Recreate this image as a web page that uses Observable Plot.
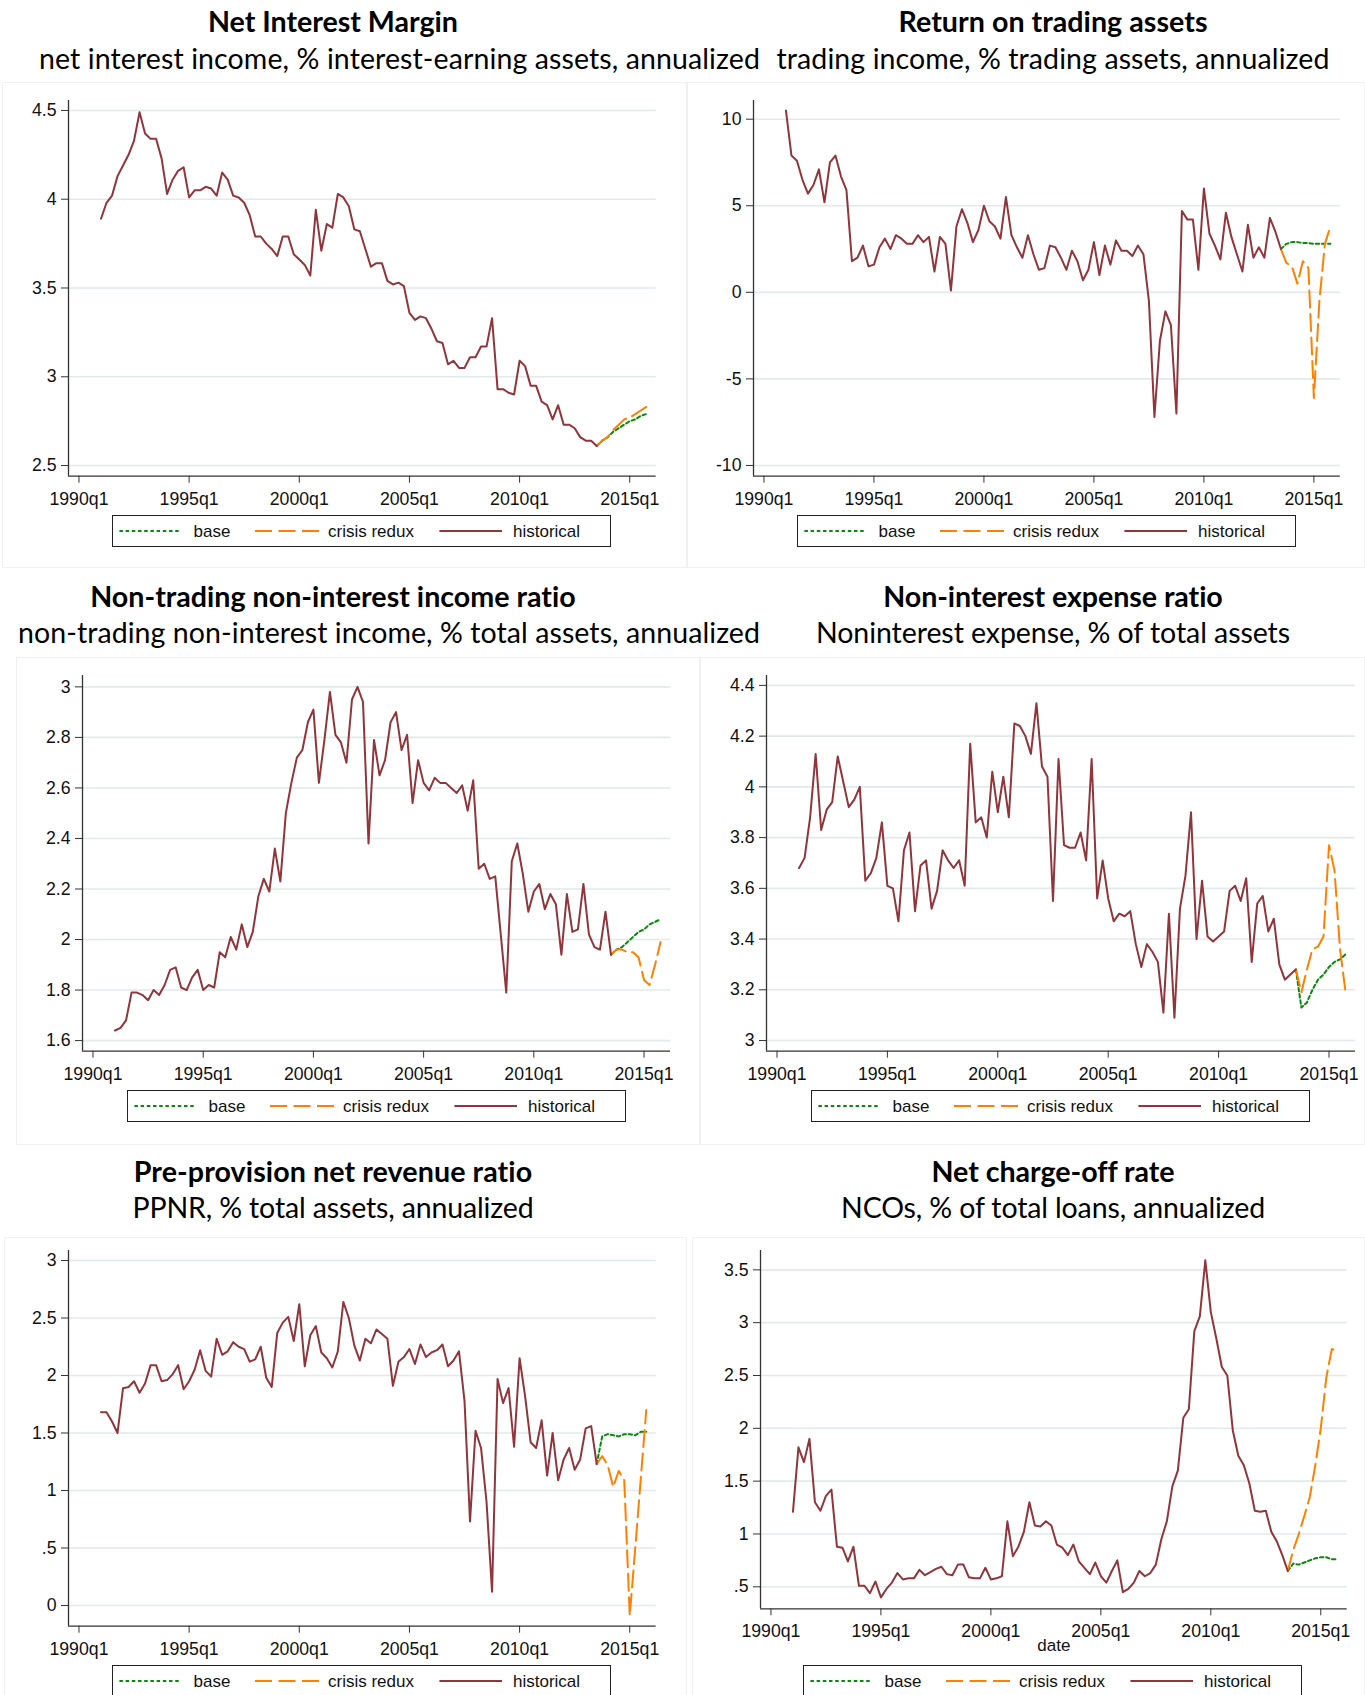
<!DOCTYPE html>
<html><head><meta charset="utf-8">
<script src="https://cdn.jsdelivr.net/npm/d3@7"></script>
<script src="https://cdn.jsdelivr.net/npm/@observablehq/plot@0.6"></script>
<style>
body{margin:0;background:#fff;}
#root{position:relative;width:1365px;height:1695px;overflow:hidden;background:#fff;}
.title,.sub{position:absolute;white-space:nowrap;color:#000;line-height:1;font-family:Lato,"Open Sans",sans-serif;}
.title{font-weight:700;}
.sub{font-weight:400;}
.region{position:absolute;border:1px solid #f1f1f1;box-sizing:border-box;}
.legend{position:absolute;border:1px solid #222;box-sizing:border-box;background:#fff;}
.chart{position:absolute;}
</style></head><body>
<div id="root"></div>
<script>
// ---------- data ----------
const histStart = "1991q1";
const fcstStart = "2013q3";
const xTicks = [1990, 1995, 2000, 2005, 2010, 2015];
const seriesNames = ["base", "crisis redux", "historical"];

const nimHist = [3.89,3.98,4.02,4.13,4.19,4.25,4.33,4.49,4.37,4.34,
 4.34,4.23,4.03,4.11,4.16,4.18,4.01,4.05,4.05,4.07,
 4.06,4.02,4.15,4.11,4.02,4.01,3.98,3.91,3.79,3.79,
 3.75,3.72,3.68,3.79,3.79,3.69,3.66,3.63,3.57,3.94,
 3.71,3.86,3.84,4.03,4.01,3.96,3.83,3.82,3.72,3.62,
 3.64,3.64,3.54,3.52,3.53,3.51,3.36,3.32,3.34,3.33,
 3.27,3.20,3.19,3.07,3.09,3.05,3.05,3.11,3.11,3.17,
 3.17,3.33,2.93,2.93,2.91,2.90,3.09,3.06,2.95,2.95,
 2.86,2.84,2.76,2.84,2.73,2.73,2.71,2.66,2.64,2.64,
 2.61];
const nimBase = [2.61,2.64,2.66,2.69,2.71,2.73,2.75,2.76,2.78,2.79];
const nimCrisis = [2.61,2.64,2.66,2.70,2.73,2.76,2.77,2.79,2.81,2.83];

const tradHist = [10.5,7.9,7.6,6.5,5.7,6.2,7.1,5.2,7.5,7.9,
 6.7,5.9,1.8,2.0,2.7,1.5,1.6,2.6,3.1,2.5,
 3.3,3.1,2.8,2.8,3.3,2.9,3.2,1.2,3.2,2.8,
 0.1,3.8,4.8,4.0,2.9,3.6,5.0,4.1,3.8,3.1,
 5.5,3.3,2.6,2.0,3.3,2.2,1.3,1.4,2.7,2.6,
 2.0,1.3,2.4,1.8,0.7,1.3,2.9,1.0,2.7,1.6,
 3.0,2.4,2.4,2.1,2.7,2.2,-0.5,-7.2,-2.8,-1.1,
 -1.9,-7.0,4.7,4.2,4.2,1.3,6.0,3.4,2.7,1.9,
 4.6,3.2,2.2,1.2,3.9,2.0,2.6,2.0,4.3,3.5,
 2.5];
const tradBase = [2.5,2.8,2.9,2.9,2.85,2.85,2.8,2.8,2.8,2.8];
const tradCrisis = [2.5,1.7,1.5,0.5,1.8,1.4,-6.1,-0.5,2.8,3.8];

const nonTradHist = [1.64,1.65,1.68,1.79,1.79,1.78,1.76,1.80,1.78,1.82,
 1.88,1.89,1.81,1.80,1.85,1.88,1.80,1.82,1.81,1.95,
 1.93,2.01,1.96,2.06,1.97,2.03,2.17,2.24,2.19,2.36,
 2.23,2.50,2.62,2.72,2.75,2.86,2.91,2.62,2.79,2.98,
 2.81,2.78,2.70,2.95,3.00,2.94,2.38,2.79,2.65,2.71,
 2.86,2.90,2.75,2.81,2.54,2.71,2.62,2.59,2.64,2.62,
 2.62,2.60,2.58,2.61,2.51,2.63,2.28,2.30,2.24,2.25,
 2.02,1.79,2.31,2.38,2.26,2.11,2.19,2.22,2.12,2.18,
 2.14,1.94,2.18,2.03,2.04,2.22,2.02,1.97,1.96,2.11,
 1.94];
const nonTradBase = [1.94,1.96,1.97,1.99,2.01,2.03,2.04,2.06,2.07,2.08];
const nonTradCrisis = [1.94,1.96,1.96,1.95,1.95,1.93,1.84,1.82,1.90,1.99];

const expHist = [3.68,3.72,3.88,4.13,3.83,3.91,3.94,4.12,4.02,3.92,
 3.95,4.00,3.63,3.66,3.72,3.86,3.61,3.60,3.47,3.75,
 3.82,3.51,3.69,3.71,3.52,3.59,3.75,3.71,3.68,3.71,
 3.61,4.17,3.86,3.88,3.80,4.06,3.90,4.04,3.88,4.25,
 4.24,4.20,4.13,4.33,4.08,4.04,3.55,4.11,3.77,3.76,
 3.76,3.82,3.71,4.11,3.56,3.71,3.56,3.47,3.50,3.49,
 3.51,3.38,3.29,3.38,3.35,3.31,3.11,3.50,3.09,3.52,
 3.65,3.90,3.40,3.63,3.41,3.39,3.41,3.43,3.59,3.61,
 3.55,3.64,3.31,3.54,3.57,3.43,3.48,3.30,3.24,3.26,
 3.28];
const expBase = [3.28,3.13,3.15,3.20,3.24,3.26,3.29,3.31,3.32,3.34];
const expCrisis = [3.28,3.19,3.28,3.36,3.37,3.41,3.77,3.67,3.36,3.19];

const ppnrHist = [1.68,1.68,1.60,1.50,1.89,1.90,1.95,1.85,1.93,2.09,
 2.09,1.95,1.96,2.01,2.09,1.88,1.95,2.05,2.22,2.04,
 1.99,2.32,2.18,2.21,2.29,2.25,2.23,2.12,2.14,2.25,
 1.98,1.90,2.37,2.46,2.51,2.30,2.62,2.08,2.35,2.43,
 2.20,2.15,2.07,2.21,2.64,2.50,2.26,2.13,2.32,2.28,
 2.40,2.36,2.32,1.91,2.12,2.16,2.23,2.10,2.27,2.16,
 2.20,2.22,2.27,2.08,2.13,2.21,1.78,0.73,1.52,1.37,
 0.90,0.12,1.97,1.76,1.89,1.38,2.15,1.82,1.42,1.37,
 1.61,1.13,1.50,1.09,1.27,1.37,1.18,1.27,1.54,1.56,
 1.23];
const ppnrBase = [1.23,1.47,1.49,1.48,1.47,1.49,1.49,1.48,1.51,1.51];
const ppnrCrisis = [1.23,1.30,1.22,1.03,1.17,1.09,-0.09,0.5,1.1,1.70];

const ncoHist = [1.21,1.82,1.68,1.90,1.30,1.22,1.36,1.42,0.88,0.87,
 0.74,0.88,0.51,0.51,0.44,0.55,0.40,0.48,0.54,0.63,
 0.57,0.58,0.58,0.66,0.61,0.64,0.67,0.69,0.62,0.61,
 0.71,0.71,0.59,0.58,0.58,0.68,0.57,0.58,0.60,1.12,
 0.79,0.88,1.02,1.30,1.08,1.07,1.12,1.08,0.90,0.87,
 0.80,0.90,0.74,0.68,0.62,0.73,0.60,0.54,0.65,0.75,
 0.45,0.48,0.54,0.65,0.60,0.63,0.71,0.95,1.12,1.45,
 1.60,2.10,2.18,2.92,3.06,3.59,3.10,2.85,2.58,2.50,
 1.98,1.74,1.65,1.48,1.22,1.21,1.22,1.02,0.93,0.80,
 0.65];
const ncoBase = [0.65,0.72,0.71,0.73,0.75,0.77,0.78,0.78,0.76,0.76];
const ncoCrisis = [0.65,0.85,1.00,1.17,1.35,1.65,2.00,2.48,2.75,2.74];

const titles = ["Net Interest Margin","Return on trading assets","Non-trading non-interest income ratio",
  "Non-interest expense ratio","Pre-provision net revenue ratio","Net charge-off rate"];
const subtitles = ["net interest income, % interest-earning assets, annualized",
  "trading income, % trading assets, annualized",
  "non-trading non-interest income, % total assets, annualized",
  "Noninterest expense, % of total assets",
  "PPNR, % total assets, annualized",
  "NCOs, % of total loans, annualized"];
const yTickSets = [[2.5,3,3.5,4,4.5],[-10,-5,0,5,10],[1.6,1.8,2,2.2,2.4,2.6,2.8,3],
  [3,3.2,3.4,3.6,3.8,4,4.2,4.4],[0,0.5,1,1.5,2,2.5,3],[0.5,1,1.5,2,2.5,3,3.5]];

// ---------- layout (not data) ----------
const C = {hist:"#90353b", crisis:"#ff8000", base:"#0a8a0a", axis:"#333", grid:"#e1eaec"};
const DASH = {base:"3.5,2.7", crisis:"17,6.5"};
const xDomain = [1989.525, 2016.2];
const layout = [
  {frame:[68,100,655.7,475.7], y:[2.44,4.556], cx:333, ty:22.5, sy:59, maxR:760, region:[2,82,687,568]},
  {frame:[753,100,1339.8,475.7], y:[-10.62,11.08], cx:1053, ty:22.5, sy:59, maxR:1362, region:[687,82,1365,568]},
  {frame:[82,675,670,1050.7], y:[1.558,3.045], cx:333, ty:597, sy:633, maxR:760, region:[16,657,700,1145]},
  {frame:[766,675,1355,1050.7], y:[2.958,4.439], cx:1053, ty:597, sy:633, maxR:1362, region:[700,657,1365,1145]},
  {frame:[68,1250,655.7,1625.7], y:[-0.18,3.087], cx:333, ty:1172, sy:1208, maxR:760, region:[4,1237,687,1700]},
  {frame:[759.6,1250,1346.3,1608.3], y:[0.292,3.683], cx:1053, ty:1172, sy:1208, maxR:1362, region:[692,1237,1365,1700], date:true}
];
const titleTargets = [250,309,486,340,399,242];
const subTargets = [721,553,742,474,401,424];

// ---------- helpers ----------
const qNum = s => { const [y, qq] = s.split("q"); return +y + (+qq - 1) / 4; };
const toSeries = (start, vals) => vals.map((v, k) => ({x: qNum(start) + k / 4, y: v}));
const fmtY = d => String(d).replace(/^(-?)0\./, "$1.");
const AXIS_FONT = "'Liberation Sans', Arial, Helvetica, sans-serif";

const data = [
  [nimHist, nimBase, nimCrisis],
  [tradHist, tradBase, tradCrisis],
  [nonTradHist, nonTradBase, nonTradCrisis],
  [expHist, expBase, expCrisis],
  [ppnrHist, ppnrBase, ppnrCrisis],
  [ncoHist, ncoBase, ncoCrisis]
];

const root = document.getElementById("root");

layout.forEach((L) => {
  const reg = document.createElement("div");
  reg.className = "region";
  Object.assign(reg.style, {left: L.region[0]+"px", top: L.region[1]+"px",
    width: (L.region[2]-L.region[0])+"px", height: (L.region[3]-L.region[1])+"px"});
  root.appendChild(reg);
});

const titleNodes = [], subNodes = [];
layout.forEach((L, i) => {
  const t = document.createElement("div");
  t.className = "title"; t.textContent = titles[i];
  t.style.left = "0px"; t.style.top = "0px";
  root.appendChild(t); titleNodes.push(t);
  const s = document.createElement("div");
  s.className = "sub"; s.textContent = subtitles[i];
  s.style.left = "0px"; s.style.top = "0px";
  root.appendChild(s); subNodes.push(s);
});

function fit(nodes, targets) {
  const base = 26;
  nodes.forEach(n => n.style.fontSize = base + "px");
  const tot = d3.sum(nodes, n => n.getBoundingClientRect().width);
  const size = base * d3.sum(targets) / tot;
  nodes.forEach((n, k) => {
    n.style.fontSize = size + "px";
    const w = n.getBoundingClientRect().width;
    const ls = (targets[k] - w) / n.textContent.length;
    n.style.letterSpacing = ls + "px";
  });
  return size;
}
const tSize = fit(titleNodes, titleTargets);
const sSize = fit(subNodes, subTargets);
function place(node, L, cy, size) {
  const w = node.getBoundingClientRect().width;
  let left = L.cx - w / 2;
  if (left + w > L.maxR || left < 10) left = L.maxR - w;   // long subtitles are right-aligned
  node.style.left = left + "px";
  node.style.top = (cy - 0.53 * size) + "px";
}
layout.forEach((L, i) => { place(titleNodes[i], L, L.ty, tSize); place(subNodes[i], L, L.sy, sSize); });

// ---------- charts ----------
layout.forEach((L, i) => {
  const [hv, bv, cv] = data[i];
  const hist = toSeries(histStart, hv);
  const base = toSeries(fcstStart, bv);
  const crisis = toSeries(fcstStart, cv);
  const [x0, y0, x1, y1] = L.frame;
  const mL = 62, mR = 16, mT = 10, mB = L.date ? 58 : 40;
  const W = x1 - x0 + mL + mR, H = y1 - y0 + mT + mB;
  const yt = yTickSets[i];
  const marks = [
    Plot.gridY(yt, {stroke: C.grid, strokeOpacity: 1, strokeWidth: 1.6}),
    Plot.line(base, {x: "x", y: "y", stroke: C.base, strokeWidth: 2, strokeDasharray: DASH.base}),
    Plot.line(crisis, {x: "x", y: "y", stroke: C.crisis, strokeWidth: 2, strokeDasharray: DASH.crisis}),
    Plot.line(hist, {x: "x", y: "y", stroke: C.hist, strokeWidth: 2}),
    Plot.ruleX([xDomain[0]], {stroke: C.axis, strokeWidth: 1.3}),
    Plot.ruleY([L.y[0]], {stroke: C.axis, strokeWidth: 1.3}),
    Plot.axisX(xTicks, {tickFormat: d => d + "q1", tickSize: 7, tickPadding: 9, stroke: C.axis, fill: "#111", label: null}),
    Plot.axisY(yt, {tickFormat: fmtY, tickSize: 7, tickPadding: 5, stroke: C.axis, fill: "#111", label: null})
  ];
  if (L.date) marks.push(Plot.text(["date"], {frameAnchor: "bottom", dy: 42, fill: "#111", fontSize: 17}));
  const chart = Plot.plot({
    width: W, height: H, marginLeft: mL, marginRight: mR, marginTop: mT, marginBottom: mB,
    style: {fontFamily: AXIS_FONT, fontSize: "17.7px", background: "transparent", overflow: "visible"},
    x: {domain: xDomain, type: "linear"},
    y: {domain: L.y, type: "linear"},
    marks
  });
  chart.classList.add("chart");
  chart.style.left = (x0 - mL) + "px";
  chart.style.top = (y0 - mT) + "px";
  chart.style.maxWidth = "none";
  root.appendChild(chart);

  // legend
  const lw = 499, lh = 32;
  const lx = (x0 + x1) / 2 - lw / 2, ly = y1 + (L.date ? 56.7 : 39.3);
  const box = document.createElement("div");
  box.className = "legend";
  Object.assign(box.style, {left: lx + "px", top: ly + "px", width: lw + "px", height: lh + "px"});
  const svg = d3.create("svg").attr("width", lw - 2).attr("height", lh - 2)
    .style("position", "absolute").style("left", "0px").style("top", "0px")
    .style("font-family", AXIS_FONT).style("font-size", "17px");
  const items = [
    {x1: 6.4, x2: 68.4, tx: 80.5, c: C.base, d: DASH.base, name: seriesNames[0]},
    {x1: 142, x2: 206, tx: 215, c: C.crisis, d: DASH.crisis, name: seriesNames[1]},
    {x1: 326.4, x2: 389, tx: 400, c: C.hist, d: null, name: seriesNames[2]}
  ];
  const cyL = (lh - 2) / 2;
  items.forEach(it => {
    svg.append("line").attr("x1", it.x1).attr("x2", it.x2).attr("y1", cyL).attr("y2", cyL)
      .attr("stroke", it.c).attr("stroke-width", 2).attr("stroke-dasharray", it.d);
    svg.append("text").attr("x", it.tx).attr("y", cyL).attr("dy", "0.35em").attr("fill", "#111").text(it.name);
  });
  box.appendChild(svg.node());
  root.appendChild(box);
});
</script>
</body></html>
